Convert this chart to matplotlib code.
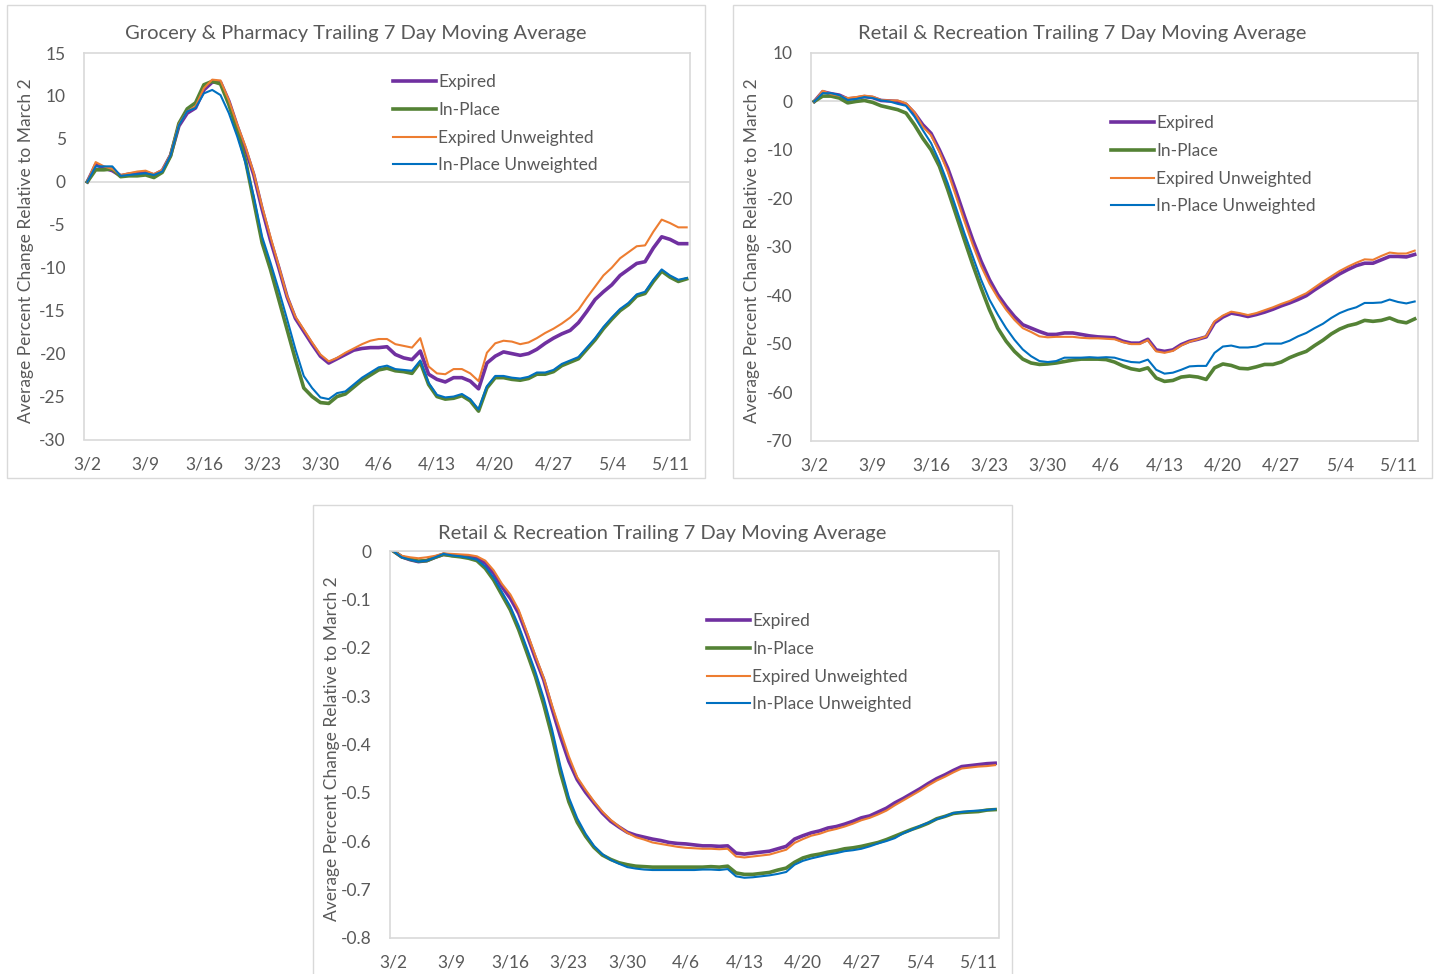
import numpy as np
import matplotlib
matplotlib.use("Agg")
import matplotlib.pyplot as plt
from matplotlib.patches import Rectangle
from matplotlib.ticker import FuncFormatter

plt.rcParams["font.family"] = ["Lato", "DejaVu Sans"]
plt.rcParams["axes.unicode_minus"] = False  # Excel 用普通连字符

# 日期刻度（3/2 起每 7 天）
TICK_LABELS = ["3/2", "3/9", "3/16", "3/23", "3/30", "4/6",
               "4/13", "4/20", "4/27", "5/4", "5/11"]
N_DAYS = 73  # 3/2 .. 5/13

SERIES_NAMES = ["Expired", "In-Place", "Expired Unweighted", "In-Place Unweighted"]

# ---------- Grocery & Pharmacy ----------
groc_expired = [
    0, 2.0, 1.6, 1.3, 0.7, 0.9, 1.0, 1.1, 0.8, 1.3,
    3.1, 6.5, 8.0, 8.6, 10.7, 11.6, 11.6, 9.4, 6.5, 3.8,
    0.8, -3.2, -6.8, -10.0, -13.4, -15.9, -17.4, -18.9, -20.3, -21.1,
    -20.6, -20.1, -19.6, -19.4, -19.3, -19.3, -19.2, -20.1, -20.5, -20.7,
    -19.7, -22.4, -23.0, -23.3, -22.8, -22.8, -23.2, -24.1, -21.1, -20.3,
    -19.8, -20.0, -20.2, -20.0, -19.5, -18.8, -18.2, -17.7, -17.3, -16.4,
    -15.1, -13.7, -12.8, -12.0, -10.9, -10.2, -9.5, -9.3, -7.7, -6.4,
    -6.7, -7.2, -7.2]
groc_inplace = [
    0, 1.4, 1.4, 1.5, 0.6, 0.7, 0.7, 0.8, 0.5, 1.1,
    3.0, 6.8, 8.5, 9.2, 11.3, 11.7, 11.4, 9.0, 6.0, 2.5,
    -2.3, -7.1, -10.2, -13.7, -17.2, -20.7, -24.0, -25.0, -25.7, -25.8,
    -25.0, -24.7, -23.9, -23.1, -22.5, -21.9, -21.7, -22.0, -22.1, -22.3,
    -21.0, -23.6, -25.0, -25.3, -25.2, -24.9, -25.5, -26.7, -24.0, -22.8,
    -22.8, -23.0, -23.1, -22.9, -22.4, -22.4, -22.1, -21.4, -21.0, -20.6,
    -19.5, -18.4, -17.1, -16.0, -15.0, -14.3, -13.3, -13.0, -11.6, -10.4,
    -11.1, -11.6, -11.3]
groc_expired_unw = [
    0, 2.3, 1.8, 1.5, 0.8, 1.0, 1.2, 1.3, 0.9, 1.4,
    3.2, 6.7, 8.2, 8.8, 10.9, 11.9, 11.8, 9.5, 6.7, 4.1,
    1.0, -2.9, -6.4, -9.8, -13.3, -15.7, -17.2, -18.7, -20.1, -20.9,
    -20.5, -19.9, -19.4, -18.9, -18.5, -18.3, -18.3, -18.9, -19.1, -19.3,
    -18.2, -21.5, -22.3, -22.4, -21.8, -21.8, -22.3, -23.2, -19.9, -18.8,
    -18.5, -18.6, -18.9, -18.7, -18.2, -17.6, -17.1, -16.5, -15.8, -14.9,
    -13.5, -12.2, -10.9, -10.0, -8.9, -8.2, -7.5, -7.4, -5.8, -4.4,
    -4.8, -5.3, -5.3]
groc_inplace_unw = [
    0, 1.8, 1.8, 1.8, 0.7, 0.8, 0.9, 1.0, 0.8, 1.2,
    3.1, 6.6, 8.2, 8.6, 10.3, 10.7, 10.1, 8.0, 5.3, 2.2,
    -1.7, -6.4, -9.4, -12.6, -16.0, -19.5, -22.6, -24.0, -25.1, -25.3,
    -24.6, -24.4, -23.6, -22.8, -22.2, -21.6, -21.4, -21.8, -21.9, -22.0,
    -20.8, -23.4, -24.8, -25.1, -25.0, -24.7, -25.3, -26.5, -23.8, -22.6,
    -22.6, -22.8, -22.9, -22.7, -22.2, -22.2, -21.9, -21.2, -20.8, -20.4,
    -19.3, -18.2, -16.9, -15.8, -14.8, -14.1, -13.1, -12.8, -11.4, -10.2,
    -10.9, -11.4, -11.2]

# ---------- Retail & Recreation (percent) ----------
retail_expired = [
    0, 2.0, 1.6, 1.3, 0.5, 0.7, 1.0, 0.8, 0.2, 0.1,
    0, -0.6, -2.4, -4.8, -6.6, -10.0, -13.8, -18.6, -23.7, -28.6,
    -33.0, -36.8, -39.9, -42.3, -44.4, -46.1, -46.8, -47.5, -48.1, -48.1,
    -47.8, -47.8, -48.1, -48.4, -48.6, -48.7, -48.8, -49.5, -49.9, -49.9,
    -49.1, -51.3, -51.6, -51.3, -50.2, -49.5, -49.1, -48.6, -45.7, -44.5,
    -43.7, -44.0, -44.4, -44.0, -43.5, -42.9, -42.2, -41.6, -40.9, -40.1,
    -38.9, -37.8, -36.7, -35.6, -34.7, -33.9, -33.4, -33.4, -32.7, -32.0,
    -32.0, -32.1, -31.6]
retail_inplace = [
    0, 1.1, 1.1, 0.7, -0.3, 0, 0.2, -0.2, -0.9, -1.3,
    -1.7, -2.4, -4.8, -7.6, -10.0, -13.4, -18.2, -23.4, -28.6, -33.7,
    -38.5, -43.0, -46.8, -49.5, -51.6, -53.2, -54.0, -54.3, -54.2, -54.0,
    -53.7, -53.4, -53.2, -53.2, -53.2, -53.3, -53.8, -54.6, -55.2, -55.5,
    -55.0, -57.1, -57.8, -57.6, -56.9, -56.7, -56.9, -57.4, -55.0, -54.2,
    -54.5, -55.1, -55.2, -54.8, -54.3, -54.3, -53.8, -52.9, -52.2, -51.6,
    -50.4, -49.3, -48.0, -47.0, -46.3, -45.9, -45.2, -45.4, -45.2, -44.7,
    -45.4, -45.7, -44.9]
retail_expired_unw = [
    0, 2.2, 1.5, 1.2, 0.7, 0.9, 1.2, 1.0, 0.3, 0.2,
    0.2, -0.4, -2.2, -5.2, -7.0, -10.4, -14.5, -19.6, -24.7, -29.6,
    -34.0, -37.6, -40.5, -43.0, -45.1, -46.8, -47.6, -48.5, -48.7, -48.6,
    -48.6, -48.6, -48.8, -48.9, -48.9, -49.0, -49.1, -49.7, -50.1, -50.1,
    -49.3, -51.6, -51.9, -51.5, -50.4, -49.6, -49.1, -48.5, -45.4, -44.2,
    -43.4, -43.7, -44.1, -43.7, -43.1, -42.5, -41.8, -41.2, -40.4, -39.6,
    -38.4, -37.2, -36.1, -35.0, -34.1, -33.3, -32.6, -32.7, -31.9, -31.2,
    -31.4, -31.4, -30.8]
retail_inplace_unw = [
    0, 1.7, 1.7, 1.3, 0.3, 0.5, 0.9, 0.7, 0.2, 0,
    -0.5, -0.9, -3.1, -5.9, -8.6, -12.4, -16.9, -22.0, -27.2, -32.0,
    -36.8, -40.9, -44.0, -46.8, -49.2, -51.2, -52.6, -53.6, -53.8, -53.6,
    -52.9, -52.9, -52.9, -52.8, -52.9, -52.8, -52.9, -53.4, -53.8, -53.9,
    -53.3, -55.4, -56.2, -56.0, -55.4, -54.7, -54.6, -54.6, -51.9, -50.6,
    -50.4, -50.8, -50.8, -50.6, -50.0, -50.0, -50.0, -49.4, -48.5, -47.8,
    -46.8, -45.9, -44.7, -43.7, -43.0, -42.5, -41.6, -41.6, -41.5, -40.9,
    -41.4, -41.7, -41.3]

# ---------- Retail & Recreation (fraction) ----------
frac_expired = [
    0, -0.012, -0.018, -0.022, -0.020, -0.013, -0.007, -0.009, -0.010, -0.012,
    -0.015, -0.025, -0.046, -0.074, -0.098, -0.129, -0.174, -0.222, -0.267, -0.327,
    -0.384, -0.435, -0.473, -0.499, -0.521, -0.542, -0.559, -0.571, -0.582, -0.588,
    -0.592, -0.596, -0.599, -0.603, -0.605, -0.606, -0.608, -0.610, -0.610, -0.611,
    -0.610, -0.625, -0.627, -0.625, -0.623, -0.621, -0.616, -0.611, -0.596, -0.589,
    -0.583, -0.579, -0.573, -0.570, -0.565, -0.559, -0.552, -0.548, -0.540, -0.532,
    -0.521, -0.512, -0.502, -0.492, -0.481, -0.471, -0.463, -0.454, -0.446, -0.444,
    -0.442, -0.440, -0.439]
frac_inplace = [
    0, -0.012, -0.017, -0.021, -0.020, -0.013, -0.007, -0.010, -0.012, -0.015,
    -0.020, -0.036, -0.060, -0.091, -0.122, -0.163, -0.211, -0.260, -0.318, -0.384,
    -0.459, -0.519, -0.561, -0.590, -0.613, -0.629, -0.638, -0.645, -0.649, -0.652,
    -0.653, -0.654, -0.654, -0.654, -0.654, -0.654, -0.654, -0.654, -0.653, -0.654,
    -0.652, -0.666, -0.669, -0.669, -0.667, -0.665, -0.660, -0.656, -0.644, -0.635,
    -0.630, -0.627, -0.623, -0.620, -0.616, -0.614, -0.611, -0.607, -0.603, -0.597,
    -0.590, -0.583, -0.576, -0.570, -0.563, -0.554, -0.549, -0.543, -0.541, -0.540,
    -0.539, -0.536, -0.535]
frac_expired_unw = [
    0, -0.010, -0.013, -0.015, -0.013, -0.010, -0.005, -0.006, -0.007, -0.008,
    -0.011, -0.020, -0.040, -0.068, -0.090, -0.122, -0.169, -0.217, -0.263, -0.320,
    -0.373, -0.425, -0.468, -0.494, -0.518, -0.539, -0.556, -0.570, -0.583, -0.592,
    -0.597, -0.603, -0.606, -0.609, -0.612, -0.614, -0.615, -0.616, -0.616, -0.617,
    -0.616, -0.632, -0.634, -0.632, -0.630, -0.628, -0.623, -0.618, -0.604, -0.596,
    -0.589, -0.585, -0.579, -0.575, -0.570, -0.564, -0.557, -0.552, -0.545, -0.537,
    -0.526, -0.516, -0.506, -0.496, -0.485, -0.475, -0.467, -0.458, -0.450, -0.448,
    -0.446, -0.445, -0.443]
frac_inplace_unw = [
    0, -0.013, -0.018, -0.022, -0.020, -0.013, -0.006, -0.009, -0.011, -0.014,
    -0.018, -0.032, -0.055, -0.085, -0.115, -0.155, -0.202, -0.250, -0.305, -0.370,
    -0.446, -0.510, -0.553, -0.585, -0.610, -0.627, -0.639, -0.647, -0.654, -0.657,
    -0.659, -0.660, -0.660, -0.660, -0.660, -0.660, -0.660, -0.659, -0.659, -0.660,
    -0.658, -0.673, -0.676, -0.675, -0.673, -0.671, -0.668, -0.664, -0.649, -0.641,
    -0.636, -0.632, -0.628, -0.625, -0.621, -0.619, -0.616, -0.611, -0.605, -0.600,
    -0.594, -0.584, -0.577, -0.569, -0.562, -0.555, -0.549, -0.542, -0.540, -0.538,
    -0.537, -0.536, -0.534]

# Excel 风格配色与线宽
COLORS = ["#7030A0", "#548235", "#ED7D31", "#0070C0"]
WIDTHS = [2.6, 2.6, 1.5, 1.5]
TEXT_C = "#595959"
GRID_C = "#D9D9D9"

W, H = 1438, 974


def fx(x):
    return x / W


def fy(y):
    return 1 - y / H


def draw_panel(fig, frame, plot, title, series, ylim, yticks, legend_xy, fmt=None):
    """frame / plot: (x0, y0, x1, y1) 像素坐标."""
    fx0, fy0, fx1, fy1 = frame
    fig.add_artist(Rectangle((fx(fx0), fy(fy1)), fx(fx1 - fx0), (fy1 - fy0) / H,
                             transform=fig.transFigure, fill=False,
                             edgecolor=GRID_C, lw=1.0, zorder=0))
    px0, py0, px1, py1 = plot
    ax = fig.add_axes([fx(px0), fy(py1), fx(px1 - px0), (py1 - py0) / H])

    days = np.arange(N_DAYS)
    ax.axhline(0, color=GRID_C, lw=1.2, zorder=1)
    for name, vals, c, lw in zip(SERIES_NAMES, series, COLORS, WIDTHS):
        ax.plot(days, vals, color=c, lw=lw, label=name, zorder=2,
                solid_joinstyle="round")

    ax.set_xlim(-0.4, 72.4)
    ax.set_ylim(*ylim)
    ax.set_xticks(np.arange(0, 71, 7))
    ax.set_xticklabels(TICK_LABELS)
    ax.set_yticks(yticks)
    if fmt is not None:
        ax.yaxis.set_major_formatter(FuncFormatter(fmt))
    ax.tick_params(length=0, labelsize=12.5, colors=TEXT_C)
    ax.tick_params(axis="y", pad=13)
    ax.tick_params(axis="x", pad=12)
    for sp in ax.spines.values():
        sp.set_color(GRID_C)
        sp.set_linewidth(1.2)

    cx = (fx0 + fx1) / 2
    fig.text(fx(cx), fy(fy0 + 28), title, ha="center", va="center",
             fontsize=14.5, color=TEXT_C)
    fig.text(fx(fx0 + 19), fy((py0 + py1) / 2 + 4),
             "Average Percent Change Relative to March 2",
             rotation=90, ha="center", va="center", fontsize=12.5, color=TEXT_C)

    lx, ly = legend_xy
    leg = ax.legend(loc="upper left",
                    bbox_to_anchor=((lx - px0) / (px1 - px0), (py1 - ly) / (py1 - py0)),
                    frameon=False, fontsize=12.5, handlelength=2.5,
                    handletextpad=0.12, labelspacing=0.68, borderaxespad=0,
                    borderpad=0)
    for t in leg.get_texts():
        t.set_color(TEXT_C)
    return ax


def main():
    fig = plt.figure(figsize=(W / 100, H / 100), dpi=100)

    draw_panel(fig, (7, 5, 705, 478), (84, 53, 690, 439.5),
               "Grocery & Pharmacy Trailing 7 Day Moving Average",
               [groc_expired, groc_inplace, groc_expired_unw, groc_inplace_unw],
               (-30, 15), np.arange(-30, 16, 5), (393, 74))

    draw_panel(fig, (733, 5, 1432, 478), (811, 53, 1418, 440.5),
               "Retail & Recreation Trailing 7 Day Moving Average",
               [retail_expired, retail_inplace, retail_expired_unw, retail_inplace_unw],
               (-70, 10), np.arange(-70, 11, 10), (1111, 115))

    draw_panel(fig, (313, 505, 1012, 990), (390, 551, 998.5, 937.7),
               "Retail & Recreation Trailing 7 Day Moving Average",
               [frac_expired, frac_inplace, frac_expired_unw, frac_inplace_unw],
               (-0.8, 0), np.arange(-0.8, 0.01, 0.1), (707, 613),
               fmt=lambda v, _: "0" if abs(v) < 1e-9 else f"{v:.1f}")

    fig.savefig("out.png", dpi=100, facecolor="white")
    plt.close(fig)


if __name__ == "__main__":
    main()
